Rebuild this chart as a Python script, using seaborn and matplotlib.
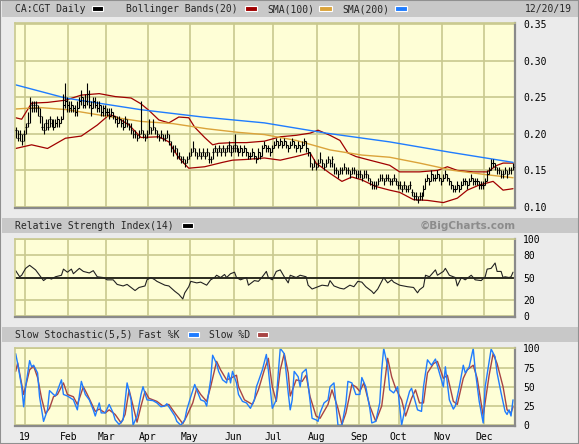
import pandas as pd
import seaborn as sns
import matplotlib
matplotlib.use("Agg")
import matplotlib.pyplot as plt
from matplotlib.patches import Rectangle

# ---- data (trading-day index 0 = 2018-12-21) ----
close = [
    0.205, 0.195, 0.200, 0.190, 0.200, 0.210, 0.215, 0.235, 0.240, 0.235,
    0.240, 0.235, 0.225, 0.210, 0.205, 0.215, 0.210, 0.220, 0.215, 0.210,
    0.215, 0.220, 0.215, 0.220, 0.240, 0.245, 0.240, 0.235, 0.240, 0.235,
    0.230, 0.235, 0.245, 0.250, 0.240, 0.245, 0.255, 0.240, 0.235, 0.245,
    0.240, 0.235, 0.240, 0.230, 0.235, 0.230, 0.230, 0.225, 0.230, 0.225,
    0.220, 0.215, 0.220, 0.215, 0.210, 0.220, 0.215, 0.210, 0.205, 0.200,
    0.200, 0.195, 0.200, 0.205, 0.200, 0.195, 0.200, 0.210, 0.205, 0.210,
    0.205, 0.200, 0.195, 0.200, 0.195, 0.195, 0.200, 0.190, 0.180, 0.175,
    0.180, 0.170, 0.170, 0.165, 0.165, 0.160, 0.165, 0.170, 0.175, 0.180,
    0.175, 0.170, 0.175, 0.170, 0.175, 0.170, 0.175, 0.165, 0.165, 0.175,
    0.180, 0.175, 0.180, 0.175, 0.180, 0.175, 0.180, 0.185, 0.175, 0.180,
    0.185, 0.180, 0.175, 0.180, 0.175, 0.180, 0.175, 0.170, 0.170, 0.175,
    0.170, 0.165, 0.175, 0.170, 0.180, 0.185, 0.180, 0.180, 0.175, 0.180,
    0.185, 0.190, 0.185, 0.190, 0.185, 0.190, 0.185, 0.180, 0.185, 0.190,
    0.185, 0.180, 0.185, 0.180, 0.185, 0.190, 0.180, 0.175, 0.160, 0.155,
    0.160, 0.155, 0.160, 0.165, 0.160, 0.155, 0.160, 0.165, 0.160, 0.165,
    0.150, 0.150, 0.145, 0.150, 0.150, 0.155, 0.150, 0.150, 0.145, 0.150,
    0.150, 0.145, 0.145, 0.145, 0.140, 0.145, 0.145, 0.140, 0.135, 0.130,
    0.130, 0.130, 0.135, 0.140, 0.140, 0.135, 0.140, 0.140, 0.135, 0.135,
    0.140, 0.135, 0.130, 0.130, 0.125, 0.130, 0.125, 0.125, 0.130, 0.120,
    0.115, 0.115, 0.110, 0.115, 0.115, 0.125, 0.135, 0.140, 0.135, 0.145,
    0.140, 0.140, 0.145, 0.140, 0.135, 0.140, 0.145, 0.140, 0.135, 0.130,
    0.125, 0.125, 0.130, 0.125, 0.130, 0.135, 0.135, 0.130, 0.135, 0.140,
    0.135, 0.135, 0.135, 0.130, 0.130, 0.130, 0.135, 0.145, 0.150, 0.160,
    0.160, 0.155, 0.150, 0.150, 0.145, 0.145, 0.150, 0.145, 0.150, 0.150, 0.155,
]
high = [
    0.210, 0.205, 0.205, 0.200, 0.205, 0.215, 0.230, 0.250, 0.245, 0.245,
    0.245, 0.240, 0.235, 0.225, 0.215, 0.220, 0.220, 0.225, 0.220, 0.220,
    0.220, 0.225, 0.220, 0.225, 0.255, 0.270, 0.250, 0.245, 0.245, 0.240,
    0.240, 0.245, 0.250, 0.260, 0.250, 0.255, 0.270, 0.260, 0.245, 0.250,
    0.250, 0.245, 0.245, 0.240, 0.240, 0.240, 0.235, 0.235, 0.235, 0.230,
    0.225, 0.225, 0.225, 0.220, 0.220, 0.225, 0.220, 0.215, 0.215, 0.205,
    0.205, 0.200, 0.205, 0.245, 0.205, 0.200, 0.205, 0.220, 0.210, 0.220,
    0.210, 0.205, 0.200, 0.205, 0.200, 0.200, 0.205, 0.200, 0.190, 0.185,
    0.185, 0.180, 0.175, 0.170, 0.170, 0.165, 0.170, 0.175, 0.180, 0.190,
    0.180, 0.175, 0.180, 0.175, 0.180, 0.175, 0.180, 0.175, 0.170, 0.180,
    0.185, 0.180, 0.185, 0.180, 0.185, 0.180, 0.185, 0.190, 0.185, 0.185,
    0.200, 0.185, 0.180, 0.185, 0.180, 0.185, 0.180, 0.175, 0.175, 0.180,
    0.175, 0.170, 0.180, 0.175, 0.185, 0.190, 0.185, 0.185, 0.180, 0.185,
    0.190, 0.195, 0.190, 0.195, 0.190, 0.195, 0.190, 0.185, 0.190, 0.195,
    0.190, 0.185, 0.190, 0.185, 0.190, 0.195, 0.190, 0.180, 0.175, 0.160,
    0.165, 0.160, 0.165, 0.175, 0.165, 0.160, 0.165, 0.170, 0.165, 0.170,
    0.160, 0.155, 0.150, 0.155, 0.155, 0.160, 0.155, 0.155, 0.150, 0.155,
    0.155, 0.150, 0.150, 0.150, 0.145, 0.150, 0.150, 0.145, 0.140, 0.135,
    0.135, 0.135, 0.140, 0.145, 0.145, 0.140, 0.145, 0.145, 0.140, 0.140,
    0.145, 0.140, 0.135, 0.135, 0.130, 0.135, 0.130, 0.130, 0.135, 0.125,
    0.120, 0.120, 0.115, 0.120, 0.120, 0.130, 0.140, 0.145, 0.140, 0.150,
    0.145, 0.145, 0.150, 0.145, 0.140, 0.145, 0.150, 0.145, 0.140, 0.135,
    0.130, 0.130, 0.135, 0.130, 0.135, 0.140, 0.140, 0.135, 0.140, 0.145,
    0.140, 0.140, 0.140, 0.135, 0.135, 0.135, 0.140, 0.150, 0.155, 0.165,
    0.165, 0.160, 0.155, 0.155, 0.150, 0.150, 0.155, 0.150, 0.155, 0.155, 0.160,
]
low = [
    0.195, 0.190, 0.190, 0.185, 0.190, 0.200, 0.210, 0.215, 0.230, 0.230,
    0.230, 0.225, 0.215, 0.205, 0.200, 0.205, 0.205, 0.210, 0.210, 0.205,
    0.210, 0.210, 0.210, 0.215, 0.220, 0.235, 0.230, 0.230, 0.230, 0.230,
    0.225, 0.225, 0.235, 0.240, 0.235, 0.235, 0.240, 0.235, 0.225, 0.235,
    0.235, 0.230, 0.230, 0.225, 0.225, 0.225, 0.225, 0.220, 0.225, 0.220,
    0.215, 0.210, 0.215, 0.210, 0.205, 0.210, 0.210, 0.205, 0.200, 0.195,
    0.195, 0.190, 0.195, 0.200, 0.195, 0.190, 0.195, 0.200, 0.200, 0.205,
    0.200, 0.195, 0.190, 0.195, 0.190, 0.190, 0.195, 0.185, 0.175, 0.170,
    0.175, 0.165, 0.165, 0.160, 0.160, 0.155, 0.160, 0.165, 0.170, 0.175,
    0.170, 0.165, 0.170, 0.165, 0.170, 0.165, 0.170, 0.160, 0.160, 0.165,
    0.175, 0.170, 0.175, 0.170, 0.175, 0.170, 0.175, 0.175, 0.170, 0.175,
    0.175, 0.175, 0.170, 0.175, 0.170, 0.175, 0.170, 0.165, 0.165, 0.170,
    0.165, 0.160, 0.165, 0.165, 0.170, 0.180, 0.175, 0.175, 0.170, 0.175,
    0.180, 0.185, 0.180, 0.185, 0.180, 0.185, 0.180, 0.175, 0.180, 0.185,
    0.180, 0.175, 0.180, 0.175, 0.180, 0.185, 0.175, 0.170, 0.155, 0.150,
    0.155, 0.150, 0.155, 0.160, 0.155, 0.150, 0.155, 0.160, 0.155, 0.155,
    0.145, 0.145, 0.140, 0.145, 0.145, 0.150, 0.145, 0.145, 0.140, 0.145,
    0.145, 0.140, 0.140, 0.140, 0.135, 0.140, 0.140, 0.135, 0.130, 0.125,
    0.125, 0.125, 0.130, 0.135, 0.135, 0.130, 0.135, 0.135, 0.130, 0.130,
    0.135, 0.130, 0.125, 0.125, 0.120, 0.125, 0.120, 0.120, 0.125, 0.115,
    0.110, 0.110, 0.105, 0.110, 0.110, 0.115, 0.125, 0.135, 0.130, 0.135,
    0.135, 0.135, 0.140, 0.135, 0.130, 0.135, 0.140, 0.135, 0.130, 0.125,
    0.120, 0.120, 0.125, 0.120, 0.125, 0.130, 0.130, 0.125, 0.130, 0.135,
    0.130, 0.130, 0.130, 0.125, 0.125, 0.125, 0.130, 0.135, 0.145, 0.150,
    0.155, 0.150, 0.145, 0.145, 0.140, 0.140, 0.145, 0.140, 0.145, 0.145, 0.150,
]

# indicator readings as (trading-day index, value)
sma200 = [(0, .267), (25, .249), (63, .233), (94, .223), (125, .215),
          (156, .201), (188, .189), (218, .175), (250, .161)]
sma100 = [(0, .234), (12, .236), (26, .233), (46, .224), (63, .217), (79, .214),
          (96, .207), (112, .202), (125, .199), (141, .191), (158, .178),
          (174, .171), (188, .168), (203, .160), (220, .150), (237, .144), (250, .140)]
bb_upper = [(0, .222), (3, .220), (8, .242), (16, .243), (25, .246), (33, .253),
            (42, .255), (50, .251), (58, .249), (63, .241), (67, .232), (72, .219),
            (77, .215), (82, .223), (87, .222), (90, .209), (95, .195), (99, .185),
            (102, .187), (109, .188), (116, .188), (125, .190), (133, .196),
            (141, .198), (148, .201), (152, .205), (158, .198), (163, .191),
            (167, .174), (171, .169), (178, .164), (188, .157), (193, .148),
            (203, .148), (212, .150), (217, .155), (222, .150), (230, .148),
            (237, .148), (242, .157), (245, .160), (250, .160)]
bb_lower = [(0, .180), (8, .185), (16, .180), (25, .194), (33, .197), (41, .212),
            (47, .226), (50, .224), (57, .212), (63, .195), (72, .196), (77, .189),
            (82, .167), (87, .153), (95, .155), (104, .161), (109, .164),
            (116, .165), (125, .167), (133, .164), (141, .169), (148, .174),
            (151, .160), (158, .146), (164, .135), (169, .141), (174, .137),
            (181, .128), (188, .123), (193, .120), (200, .110), (207, .109),
            (215, .106), (222, .112), (227, .123), (233, .130), (240, .135),
            (245, .123), (250, .125)]
rsi = [(0, 59), (2, 51), (3, 53), (5, 62), (7, 66), (9, 62), (10, 60), (12, 53),
       (14, 46), (16, 50), (18, 48), (20, 51), (23, 53), (24, 61), (26, 57),
       (28, 61), (29, 55), (32, 62), (34, 58), (37, 56), (39, 59), (41, 51),
       (44, 50), (46, 47), (49, 47), (51, 41), (54, 39), (56, 41), (60, 33),
       (62, 37), (65, 39), (66, 47), (68, 50), (70, 47), (71, 45), (75, 40),
       (77, 39), (80, 32), (82, 28), (84, 22), (85, 30), (87, 38), (88, 45),
       (91, 43), (93, 44), (96, 40), (98, 47), (100, 50), (101, 53), (103, 50),
       (105, 54), (106, 50), (108, 55), (110, 57), (111, 50), (113, 47),
       (116, 50), (117, 40), (120, 46), (122, 45), (124, 51), (126, 58),
       (127, 50), (129, 47), (131, 58), (133, 60), (135, 51), (137, 43),
       (138, 53), (141, 50), (143, 53), (146, 51), (147, 40), (149, 35),
       (152, 38), (154, 40), (157, 39), (158, 46), (160, 39), (163, 36),
       (165, 35), (168, 40), (170, 38), (172, 45), (174, 44), (176, 38),
       (179, 32), (180, 29), (182, 35), (184, 45), (185, 50), (187, 43),
       (189, 47), (190, 44), (193, 40), (195, 39), (197, 38), (200, 37),
       (202, 30), (203, 34), (205, 38), (206, 53), (208, 51), (211, 60),
       (212, 53), (215, 58), (216, 62), (218, 53), (221, 50), (222, 39),
       (224, 50), (226, 47), (229, 53), (231, 47), (234, 46), (236, 51),
       (237, 61), (239, 62), (241, 69), (242, 58), (244, 58), (245, 50),
       (246, 51), (248, 50), (249, 51), (250, 57)]
stoch_k = [(0, 93), (1, 80), (3, 50), (4, 24), (5, 50), (7, 84), (8, 76), (9, 78),
           (11, 68), (12, 37), (14, 5), (16, 20), (17, 45), (19, 40), (20, 38),
           (23, 59), (24, 40), (26, 38), (29, 33), (31, 20), (33, 57), (35, 40),
           (37, 33), (39, 20), (40, 12), (42, 29), (43, 16), (45, 16), (47, 27),
           (49, 16), (50, 7), (52, 1), (54, 7), (56, 55), (58, 33), (59, 0),
           (61, 12), (63, 40), (64, 50), (66, 33), (69, 32), (71, 29), (73, 24),
           (75, 25), (76, 28), (78, 20), (80, 12), (81, 5), (83, 0), (85, 7),
           (86, 20), (88, 37), (90, 53), (91, 46), (93, 33), (95, 31), (96, 25),
           (98, 59), (99, 91), (101, 80), (102, 70), (104, 59), (106, 55),
           (107, 68), (108, 55), (109, 70), (111, 55), (112, 40), (114, 31),
           (116, 29), (118, 22), (120, 33), (121, 50), (122, 57), (124, 72),
           (126, 92), (127, 72), (129, 22), (131, 33), (132, 68), (133, 100),
           (135, 93), (137, 42), (138, 20), (139, 33), (140, 70), (142, 63),
           (143, 50), (144, 68), (146, 73), (147, 53), (149, 9), (151, 7),
           (152, 5), (153, 16), (155, 29), (157, 33), (158, 50), (160, 55),
           (162, 0), (164, 0), (166, 29), (167, 57), (169, 55), (171, 40),
           (173, 40), (174, 62), (176, 50), (178, 22), (179, 3), (181, 5),
           (183, 29), (184, 72), (185, 100), (187, 76), (188, 46), (190, 42),
           (192, 50), (193, 25), (194, 0), (196, 25), (198, 44), (199, 48),
           (202, 20), (204, 18), (205, 50), (207, 85), (209, 78), (211, 86),
           (213, 68), (215, 50), (216, 76), (218, 33), (220, 21), (221, 25),
           (223, 50), (225, 78), (226, 68), (228, 76), (230, 100), (231, 72),
           (233, 31), (235, 3), (236, 50), (239, 99), (241, 89), (242, 68),
           (244, 42), (246, 18), (247, 14), (248, 20), (249, 12), (250, 33)]
stoch_d = [(0, 70), (1, 81), (4, 40), (7, 72), (9, 77), (11, 62), (13, 35),
           (15, 15), (17, 22), (19, 37), (21, 40), (24, 55), (26, 40), (29, 37),
           (31, 27), (34, 50), (36, 40), (40, 18), (42, 21), (45, 16), (47, 20),
           (50, 14), (53, 3), (55, 14), (57, 46), (59, 25), (61, 4), (63, 25),
           (65, 44), (67, 35), (71, 31), (74, 25), (77, 27), (80, 16), (84, 2),
           (86, 12), (89, 29), (91, 48), (93, 40), (96, 31), (98, 50), (101, 83),
           (103, 72), (106, 59), (108, 61), (111, 65), (112, 50), (115, 33),
           (119, 27), (122, 46), (125, 72), (127, 87), (129, 50), (131, 31),
           (133, 72), (135, 93), (137, 68), (138, 38), (141, 59), (144, 57),
           (146, 65), (148, 37), (151, 12), (153, 9), (157, 27), (159, 46),
           (162, 22), (164, 1), (166, 16), (169, 53), (171, 50), (173, 44),
           (175, 55), (178, 25), (181, 5), (184, 25), (187, 87), (189, 63),
           (191, 48), (194, 33), (196, 12), (199, 35), (201, 46), (203, 29),
           (205, 29), (207, 68), (210, 80), (212, 83), (215, 61), (217, 65),
           (220, 31), (222, 27), (225, 61), (227, 72), (230, 78), (232, 61),
           (235, 12), (238, 65), (240, 93), (242, 80), (245, 50), (247, 20),
           (249, 16), (250, 24)]

price_ticks = [0.10, 0.15, 0.20, 0.25, 0.30, 0.35]
rsi_ticks = [0, 20, 50, 80, 100]
stoch_ticks = [0, 25, 50, 75, 100]
holidays = ["2018-12-25", "2018-12-26", "2019-01-01", "2019-02-18", "2019-04-19",
            "2019-05-20", "2019-07-01", "2019-08-05", "2019-09-02", "2019-10-14"]

# ---- style ----
W, H = 579, 444
PANEL = "#fefed6"
GRID = "#c9c98e"
STRIP = "#c8c8c8"
BG = "#ebebeb"
SHADOW = "#8a8a8a"
RED = "#a00000"
ORANGE = "#dba33a"
BLUE = "#1f7cff"
DRED = "#a84444"
MONO = "DejaVu Sans Mono"

sns.set_theme(style="white")
plt.rcParams["font.family"] = [MONO, "DejaVu Sans"]

days = pd.bdate_range("2018-12-21", "2019-12-20", freq="C", holidays=holidays)
idx = list(range(len(days)))
starts = [i for i in idx[1:] if days[i].month != days[i - 1].month]
month_pos = [s - 0.5 for s in starts]
month_lab = ["19" if days[s].month == 1 else days[s].strftime("%b") for s in starts]

fig = plt.figure(figsize=(W / 100, H / 100), dpi=100)
fig.patch.set_facecolor(BG)


def fx(x):
    return x / W


def fy(y):
    return 1 - y / H


def strip(y0, y1):
    fig.add_artist(Rectangle((fx(2), fy(y1)), 1, (y1 - y0) / H, transform=fig.transFigure,
                             facecolor=STRIP, edgecolor="none", zorder=0))


def label(x, y, s, ha="left", **kw):
    fig.text(fx(x), fy(y), s, ha=ha, va="center", fontsize=7, family=MONO, **kw)


def swatch(x0, x1, y, color):
    fig.add_artist(Rectangle((fx(x0), fy(y + 2.5)), (x1 - x0) / W, 5 / H,
                             transform=fig.transFigure, facecolor=color,
                             edgecolor="white", lw=0.8, zorder=3))


def panel(top, bottom, ticks, ylim, fmt):
    ax = fig.add_axes([fx(14.7), fy(bottom), (515 - 14.7) / W, (bottom - top) / H])
    ax.set_facecolor(PANEL)
    ax.set_xlim(-0.5, 251.0)
    ax.set_ylim(*ylim)
    ax.set_xticks(month_pos)
    ax.set_yticks(ticks)
    ax.set_yticklabels([fmt(t) for t in ticks])
    ax.yaxis.tick_right()
    ax.tick_params(axis="both", length=0, labelsize=7, colors="black")
    ax.tick_params(axis="y", pad=6)
    ax.tick_params(axis="x", labelbottom=False)
    ax.grid(True, color=GRID, lw=1.2)
    ax.set_axisbelow(True)
    for side in ("top", "left"):
        ax.spines[side].set_color(GRID)
        ax.spines[side].set_linewidth(1.2)
    for side in ("bottom", "right"):
        ax.spines[side].set_color(SHADOW)
        ax.spines[side].set_linewidth(1.6)
    return ax


def line(ax, pairs, color, lw):
    xs, ys = zip(*pairs)
    sns.lineplot(x=list(xs), y=list(ys), ax=ax, color=color, lw=lw,
                 estimator=None, sort=False, legend=False)


# header strips and texts
strip(0, 17)
strip(218, 233)
strip(327, 342)
fig.add_artist(Rectangle((0, 0), 1, 1, transform=fig.transFigure, fill=False,
                         edgecolor="#909090", lw=1.5, zorder=5))

label(15, 9, "CA:CGT Daily")
swatch(92, 103, 9, "black")
label(126, 9, "Bollinger Bands(20)")
swatch(245, 257, 9, RED)
label(267, 9, "SMA(100)")
swatch(319, 332, 9, ORANGE)
label(342, 9, "SMA(200)")
swatch(395, 407, 9, BLUE)
label(572, 9, "12/20/19", ha="right")

label(15, 225.5, "Relative Strength Index(14)")
swatch(182, 193, 225.5, "black")
fig.text(fx(516), fy(225.5), "\u00a9BigCharts.com", ha="right", va="center",
         fontsize=7.5, family="DejaVu Sans", fontweight="bold", color="#8c8c8c")

label(15, 334.5, "Slow Stochastic(5,5) Fast %K")
swatch(188, 199, 334.5, BLUE)
label(209, 334.5, "Slow %D")
swatch(257, 268, 334.5, DRED)

# ---- price panel ----
ax1 = panel(22.7, 207.7, price_ticks, (0.099, 0.352), lambda v: f"{v:.2f}")
line(ax1, bb_upper, RED, 0.9)
line(ax1, bb_lower, RED, 0.9)
line(ax1, sma100, ORANGE, 1.0)
line(ax1, sma200, BLUE, 1.0)
ax1.vlines(idx, low, high, color="black", lw=0.8, zorder=4)
ax1.hlines(close, [i - 0.1 for i in idx], [i + 0.7 for i in idx],
           color="black", lw=0.8, zorder=4)

# ---- RSI panel ----
ax2 = panel(239.3, 317.3, rsi_ticks, (-2, 100), lambda v: f"{v}")
ax2.axhline(50, color="black", lw=1.1, zorder=2)
line(ax2, rsi, "#222222", 0.8)

# ---- stochastic panel ----
ax3 = panel(348.3, 426.0, stoch_ticks, (-1, 100), lambda v: f"{v}")
line(ax3, stoch_d, DRED, 1.0)
line(ax3, stoch_k, BLUE, 1.0)
ax3.tick_params(axis="x", labelbottom=True, pad=4)
ax3.set_xticklabels(month_lab)

for ax in (ax1, ax2, ax3):
    ax.set_xlabel("")
    ax.set_ylabel("")

fig.savefig("out.png", dpi=100, facecolor=fig.get_facecolor())
